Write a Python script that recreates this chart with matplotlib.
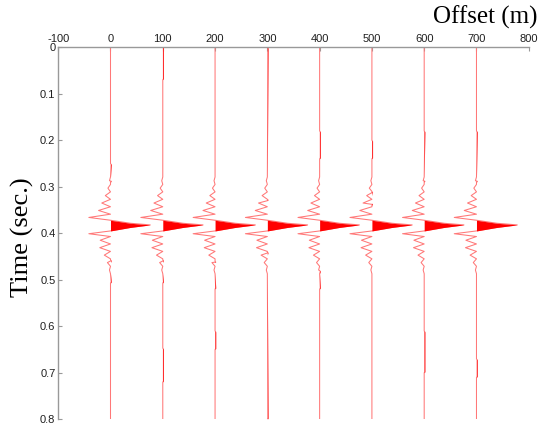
import numpy as np
import matplotlib
matplotlib.use("Agg")
import matplotlib.pyplot as plt

plt.rcParams["axes.unicode_minus"] = False

# Receiver offsets (m) and per-trace peak deflection (m of offset axis)
offsets = [0, 100, 200, 300, 400, 500, 600, 700]
peak_amplitude = [76, 77, 77, 77, 76, 77, 76, 78]
arrival_time = [0.383, 0.383, 0.383, 0.383, 0.383, 0.383, 0.383, 0.383]

# Wavelet vertices: time relative to arrival (s), amplitude as fraction of peak
wavelet_dt = [-0.104, -0.096, -0.088, -0.080, -0.072, -0.064, -0.056, -0.048,
              -0.040, -0.032, -0.024, -0.017, -0.011, -0.0045, -0.001, 0.0045,
              0.012, 0.018, 0.024, 0.032, 0.040, 0.048, 0.056, 0.064, 0.072,
              0.080, 0.088, 0.096, 0.104]
wavelet_amp = [0.0, -0.026, 0.0, -0.065, 0.0, -0.13, 0.0, -0.22,
               0.0, -0.30, 0.0, -0.545, 0.0, 0.5, 1.0, 0.5,
               0.0, -0.545, 0.0, -0.26, 0.0, -0.27, 0.0, -0.156, 0.0,
               -0.078, 0.0, -0.026, 0.0]

# Weak positive energy outside the main arrival: trace index, start/end time (s)
blip_trace = [0, 0, 1, 1, 1, 2, 2, 3, 3, 4, 4, 5, 5, 6, 6, 7, 7]
blip_start = [0.25, 0.457, 0.0, 0.457, 0.647, 0.46, 0.61, 0.0, 0.44, 0.18, 0.48,
              0.31, 0.20, 0.18, 0.61, 0.18, 0.67]
blip_end = [0.29, 0.507, 0.07, 0.507, 0.72, 0.52, 0.65, 0.33, 0.8, 0.24, 0.52,
            0.34, 0.24, 0.29, 0.70, 0.29, 0.71]
blip_amp = 1.2

x_ticks = [-100, 0, 100, 200, 300, 400, 500, 600, 700, 800]
y_ticks = [0, 0.1, 0.2, 0.3, 0.4, 0.5, 0.6, 0.7, 0.8]
y_tick_labels = ["0", "0.1", "0.2", "0.3", "0.4", "0.5", "0.6", "0.7", "0.8"]

fig = plt.figure(figsize=(5.39, 4.25), dpi=100)
ax = fig.add_axes([0.108, 0.0134, 0.873, 0.8755])

for i, off in enumerate(offsets):
    t0 = arrival_time[i]
    a0 = peak_amplitude[i]
    times = [0.0]
    amps = [0.0]
    pieces = []
    for dt, fa in zip(wavelet_dt, wavelet_amp):
        pieces.append((t0 + dt, fa * a0))
    for k, tr in enumerate(blip_trace):
        if tr != i:
            continue
        ts, te = blip_start[k], blip_end[k]
        pieces += [(ts, 0.0), (ts + 0.002, blip_amp), (te - 0.002, blip_amp), (te, 0.0)]
    pieces.sort()
    for t, a in pieces:
        times.append(t)
        amps.append(a)
    times.append(0.8)
    amps.append(0.0)
    times = np.array(times)
    amps = np.array(amps)
    x = off + amps
    ax.fill_betweenx(times, off, off + np.maximum(amps, 0), color="#ff0000",
                     linewidth=0, zorder=3)
    ax.plot(x, times, color="#ff7878", lw=0.75, zorder=2)

ax.set_xlim(-100, 800)
ax.set_ylim(0.8, 0)
ax.set_xticks(x_ticks)
ax.set_xticklabels([str(v) for v in x_ticks])
ax.set_yticks(y_ticks)
ax.set_yticklabels(y_tick_labels)
ax.xaxis.tick_top()

for side in ["right", "bottom"]:
    ax.spines[side].set_visible(False)
for side in ["left", "top"]:
    ax.spines[side].set_color("#999999")
    ax.spines[side].set_linewidth(1.0)

ax.tick_params(axis="both", direction="in", length=3, color="#999999",
               labelsize=8, pad=2)
for lab in ax.get_xticklabels() + ax.get_yticklabels():
    lab.set_fontfamily("Liberation Sans")
    lab.set_color("#202020")

fig.text(0.998, 1 - 17 / 425, "Offset (m)", ha="right", va="center",
         family="Liberation Serif", fontsize=18)
fig.text(22 / 539, 1 - 237 / 425, "Time (sec.)", ha="center", va="center",
         rotation=90, family="Liberation Serif", fontsize=19)

fig.savefig("out.png", dpi=100)
